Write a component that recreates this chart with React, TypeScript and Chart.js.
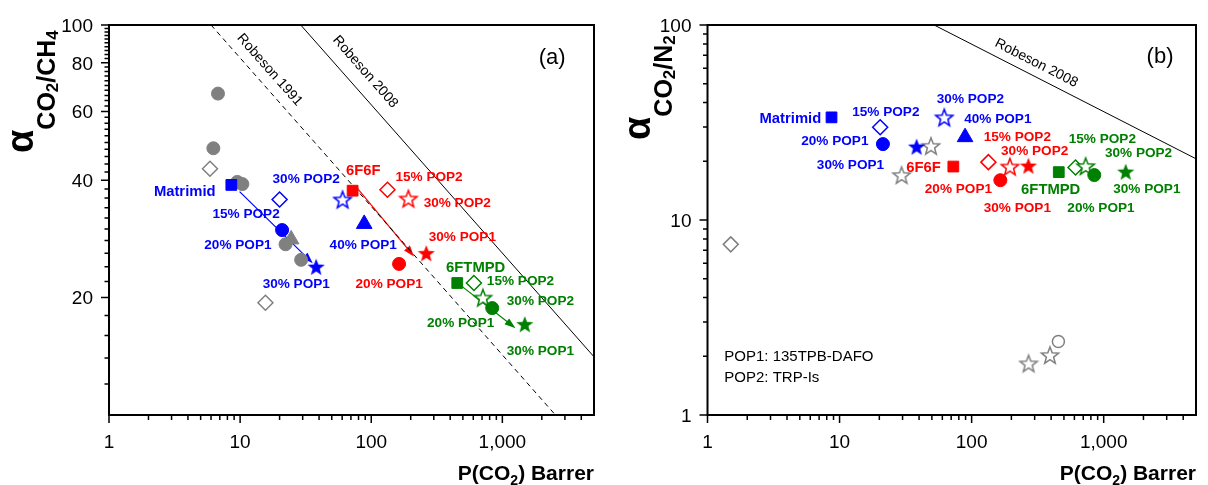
import React, { useEffect, useRef } from 'react';
import { Chart, registerables } from 'chart.js';

Chart.register(...registerables);

const FONT = '"Liberation Sans", Arial, Helvetica, sans-serif';
const BLUE = '#0000ff';
const RED = '#ff0000';
const GREEN = '#008000';
const GRAY = '#808080';

// ---------- shared axis ----------
const X_MAJOR = [1, 10, 100, 1000];
const X_MAJOR_LABELS = ['1', '10', '100', '1,000'];
const X_MAX = 5000;

// ---------- panel (a): CO2/CH4 ----------
const CH4_Y_MAJOR = [20, 40, 60, 80, 100];
const CH4_Y_MAJOR_LABELS = ['20', '40', '60', '80', '100'];

const BLUE_M = ['square', 'diamondOpen', 'circle', 'star', 'starOpen', 'triangle'];
const RED_M = ['square', 'diamondOpen', 'starOpen', 'star', 'circle'];
const GREEN_M = ['square', 'diamondOpen', 'starOpen', 'circle', 'star'];

const CH4_BLUE_P = [8.57, 20.0, 20.9, 38.0, 60.5, 88.4];
const CH4_BLUE_A = [38.9, 35.7, 29.8, 24.0, 35.7, 30.9];
const CH4_RED_P = [72.1, 133, 192, 263, 163];
const CH4_RED_A = [37.6, 37.8, 35.9, 26.0, 24.4];
const CH4_GREEN_P = [453, 607, 711, 837, 1483];
const CH4_GREEN_A = [21.8, 21.8, 20.0, 18.8, 17.1];
const CH4_GRAY_P = [24.5, 6.78, 6.25, 9.52, 10.4, 22.2, 29.2, 5.89, 15.6];
const CH4_GRAY_A = [28.2, 66.7, 48.3, 39.6, 39.1, 27.4, 25.0, 42.8, 19.4];
const CH4_GRAY_M = ['triangle', 'circle', 'circle', 'circle', 'circle', 'circle', 'circle', 'diamondOpen', 'diamondOpen'];

const CH4_R1991_P = [6.0, 2540];
const CH4_R1991_A = [100, 10];
const CH4_R2008_P = [29, 5000];
const CH4_R2008_A = [100, 14.1];

const CH4_BLUE_TXT = ['Matrimid', '30% POP2', '15% POP2', '20% POP1', '30% POP1', '40% POP1'];
const CH4_BLUE_TXT_P = [3.78, 31.9, 11.1, 9.62, 26.8, 86.9];
const CH4_BLUE_TXT_A = [37.4, 40.3, 32.7, 27.3, 21.6, 27.2];
const CH4_RED_TXT = ['6F6F', '15% POP2', '30% POP2', '30% POP1', '20% POP1'];
const CH4_RED_TXT_P = [86.9, 276, 453, 495, 137];
const CH4_RED_TXT_A = [42.3, 40.8, 34.9, 28.5, 21.7];
const CH4_GREEN_TXT = ['6FTMPD', '15% POP2', '30% POP2', '20% POP1', '30% POP1'];
const CH4_GREEN_TXT_P = [626, 1375, 1952, 481, 1952];
const CH4_GREEN_TXT_A = [23.9, 22.0, 19.6, 17.2, 14.6];

// arrows: start/end in data units (blue, red, green)
const CH4_ARROW_FROM_P = [9.91, 76.5, 481];
const CH4_ARROW_FROM_A = [37.4, 38.5, 21.5];
const CH4_ARROW_TO_P = [35.8, 212, 1260];
const CH4_ARROW_TO_A = [24.5, 25.5, 16.7];

// ---------- panel (b): CO2/N2 ----------
const N2_Y_MAJOR = [1, 10, 100];
const N2_Y_MAJOR_LABELS = ['1', '10', '100'];

const N2_BLUE_P = [8.69, 20.3, 21.3, 38.3, 62.1, 89.2];
const N2_BLUE_A = [33.6, 29.9, 24.5, 23.8, 33.6, 26.6];
const N2_RED_P = [72.7, 134, 195, 269, 165];
const N2_RED_A = [18.8, 19.8, 18.8, 19.0, 16.0];
const N2_GREEN_P = [457, 612, 730, 849, 1469];
const N2_GREEN_A = [17.6, 18.6, 18.9, 17.0, 17.7];
const N2_GRAY_P = [1.5, 29.5, 49.2, 270, 392, 454];
const N2_GRAY_A = [7.5, 17.0, 24.0, 1.84, 2.03, 2.38];
const N2_GRAY_M = ['diamondOpen', 'starOpen', 'starOpen', 'starOpen', 'starOpen', 'circleOpen'];

const N2_R2008_P = [52, 5000];
const N2_R2008_A = [100, 20.6];

const N2_BLUE_TXT = ['Matrimid', '15% POP2', '20% POP1', '30% POP1', '30% POP2', '40% POP1'];
const N2_BLUE_TXT_P = [4.24, 22.4, 9.21, 12.1, 97.9, 158];
const N2_BLUE_TXT_A = [33.0, 35.9, 25.4, 19.1, 41.7, 33.0];
const N2_RED_TXT = ['6F6F', '15% POP2', '30% POP2', '20% POP1', '30% POP1'];
const N2_RED_TXT_P = [43.3, 222, 300, 79.4, 222];
const N2_RED_TXT_A = [18.6, 26.7, 22.4, 14.3, 11.5];
const N2_GREEN_TXT = ['6FTMPD', '15% POP2', '30% POP2', '30% POP1', '20% POP1'];
const N2_GREEN_TXT_P = [397, 977, 1836, 2123, 954];
const N2_GREEN_TXT_A = [14.3, 26.0, 22.1, 14.3, 11.5];

const NOTE_LINES = ['POP1: 135TPB-DAFO', 'POP2: TRP-Is'];
const NOTE_P = [1.34, 1.34];
const NOTE_A = [1.99, 1.55];

// ---------- helpers ----------
const starCache: Record<string, HTMLCanvasElement> = {};
function starCanvas(color: string, filled: boolean) {
  const key = color + (filled ? 'f' : 'o');
  if (starCache[key]) return starCache[key];
  const R = 9;
  const size = 2 * R + 4;
  const cv = document.createElement('canvas');
  cv.width = size;
  cv.height = size;
  const g = cv.getContext('2d')!;
  const cx = size / 2;
  const cy = size / 2 + 0.9;
  const r = R * 0.42;
  g.beginPath();
  for (let i = 0; i < 10; i++) {
    const ang = -Math.PI / 2 + (i * Math.PI) / 5;
    const rad = i % 2 === 0 ? R : r;
    const x = cx + rad * Math.cos(ang);
    const y = cy + rad * Math.sin(ang);
    if (i === 0) g.moveTo(x, y);
    else g.lineTo(x, y);
  }
  g.closePath();
  if (filled) {
    g.fillStyle = color;
    g.fill();
  } else {
    g.fillStyle = '#fff';
    g.fill();
    g.lineWidth = 1.5;
    g.strokeStyle = color;
    g.stroke();
  }
  starCache[key] = cv;
  return cv;
}

function markerOpts(m: string, color: string) {
  switch (m) {
    case 'square':
      return { style: 'rect' as any, radius: 7.6, bg: color, bw: 1 };
    case 'circle':
      return { style: 'circle' as any, radius: 6.5, bg: color, bw: 1 };
    case 'circleOpen':
      return { style: 'circle' as any, radius: 6, bg: '#fff', bw: 1.5 };
    case 'diamondOpen':
      return { style: 'rectRot' as any, radius: 7.5, bg: '#fff', bw: 1.5 };
    case 'triangle':
      return { style: 'triangle' as any, radius: 9, bg: color, bw: 1 };
    case 'star':
      return { style: starCanvas(color, true) as any, radius: 9, bg: color, bw: 0 };
    default:
      return { style: starCanvas(color, false) as any, radius: 9, bg: '#fff', bw: 0 };
  }
}

function scatterSet(P: number[], A: number[], M: string[], color: string) {
  const opts = M.map((m) => markerOpts(m, color));
  const get = (c: any) => opts[c.dataIndex] || opts[0];
  return {
    data: P.map((p, i) => ({ x: p, y: A[i] })),
    showLine: false,
    pointStyle: (c: any) => get(c).style,
    pointRadius: (c: any) => get(c).radius,
    pointHoverRadius: (c: any) => get(c).radius,
    pointBackgroundColor: (c: any) => get(c).bg,
    pointBorderColor: color,
    pointBorderWidth: (c: any) => get(c).bw,
  };
}

function lineSet(P: number[], A: number[], dashed: boolean) {
  return {
    data: P.map((p, i) => ({ x: p, y: A[i] })),
    showLine: true,
    borderColor: '#000',
    borderWidth: 1,
    borderDash: dashed ? [5, 4] : [],
    pointRadius: 0,
    fill: false,
  };
}

type Part = { t: string; font: string; dy: number };
function drawRich(ctx: CanvasRenderingContext2D, parts: Part[], x0: number, y0: number, rotate: boolean, alignRight: boolean) {
  ctx.save();
  ctx.translate(x0, y0);
  if (rotate) ctx.rotate(-Math.PI / 2);
  ctx.textAlign = 'left';
  ctx.textBaseline = 'alphabetic';
  const widths = parts.map((p) => {
    ctx.font = p.font;
    return ctx.measureText(p.t).width;
  });
  const total = widths.reduce((a, b) => a + b, 0);
  let u = alignRight ? -total : 0;
  parts.forEach((p, i) => {
    ctx.font = p.font;
    ctx.fillText(p.t, u, p.dy);
    u += widths[i];
  });
  ctx.restore();
}

type TextGroup = { txt: string[]; P: number[]; A: number[]; color: string };
type Spec = {
  canvasW: number;
  plotLeft: number;
  plotRight: number;
  yMin: number;
  yMax: number;
  yMajor: number[];
  yMajorLabels: string[];
  yMinor: number[];
  yTitle: Part[];
  yTitleX: number;
  yTitleY: number;
  datasets: any[];
  texts: TextGroup[];
  arrows: { fromP: number[]; fromA: number[]; toP: number[]; toA: number[]; colors: string[] };
  robeson: { text: string; P: number; A: number; lineP: number[]; lineA: number[] }[];
  letter: string;
  letterP: number;
  letterA: number;
  note?: { lines: string[]; P: number[]; A: number[] };
};

function xMinorTicks() {
  const out: number[] = [];
  for (const d of X_MAJOR) for (let k = 2; k <= 9; k++) if (k * d < X_MAX) out.push(k * d);
  return out;
}

function buildConfig(spec: Spec): any {
  const overlay = {
    id: 'overlay',
    beforeDatasetsDraw(chart: any) {
      const { ctx, scales } = chart;
      const px = (v: number) => scales.x.getPixelForValue(v);
      const py = (v: number) => scales.y.getPixelForValue(v);
      const a = spec.arrows;
      ctx.save();
      for (let i = 0; i < a.fromP.length; i++) {
        const x0 = px(a.fromP[i]);
        const y0 = py(a.fromA[i]);
        const x1 = px(a.toP[i]);
        const y1 = py(a.toA[i]);
        const ang = Math.atan2(y1 - y0, x1 - x0);
        const L = 11;
        const W = 3.8;
        ctx.strokeStyle = a.colors[i];
        ctx.fillStyle = a.colors[i];
        ctx.lineWidth = 1.2;
        ctx.beginPath();
        ctx.moveTo(x0, y0);
        ctx.lineTo(x1 - L * 0.8 * Math.cos(ang), y1 - L * 0.8 * Math.sin(ang));
        ctx.stroke();
        ctx.beginPath();
        ctx.moveTo(x1, y1);
        ctx.lineTo(x1 - L * Math.cos(ang) + W * Math.sin(ang), y1 - L * Math.sin(ang) - W * Math.cos(ang));
        ctx.lineTo(x1 - L * Math.cos(ang) - W * Math.sin(ang), y1 - L * Math.sin(ang) + W * Math.cos(ang));
        ctx.closePath();
        ctx.fill();
      }
      ctx.restore();
    },
    afterDatasetsDraw(chart: any) {
      const { ctx, chartArea: ca, scales } = chart;
      const px = (v: number) => scales.x.getPixelForValue(v);
      const py = (v: number) => scales.y.getPixelForValue(v);
      ctx.save();

      // annotation labels
      ctx.textAlign = 'center';
      ctx.textBaseline = 'middle';
      for (const g of spec.texts) {
        ctx.fillStyle = g.color;
        g.txt.forEach((t, i) => {
          ctx.font = t.includes('%') ? `bold 13.6px ${FONT}` : `bold 14.8px ${FONT}`;
          ctx.fillText(t, px(g.P[i]), py(g.A[i]));
        });
      }

      // Robeson labels
      ctx.fillStyle = '#000';
      ctx.font = `14px ${FONT}`;
      for (const r of spec.robeson) {
        const ang = Math.atan2(py(r.lineA[1]) - py(r.lineA[0]), px(r.lineP[1]) - px(r.lineP[0]));
        ctx.save();
        ctx.translate(px(r.P), py(r.A));
        ctx.rotate(ang);
        ctx.fillText(r.text, 0, 0);
        ctx.restore();
      }

      // panel letter
      ctx.font = `22px ${FONT}`;
      ctx.fillText(spec.letter, px(spec.letterP), py(spec.letterA));

      // note
      if (spec.note) {
        ctx.textAlign = 'left';
        ctx.font = `15px ${FONT}`;
        spec.note.lines.forEach((t, i) => ctx.fillText(t, px(spec.note!.P[i]), py(spec.note!.A[i])));
      }

      // frame
      ctx.strokeStyle = '#000';
      ctx.lineWidth = 2;
      ctx.strokeRect(ca.left, ca.top, ca.right - ca.left, ca.bottom - ca.top);

      // ticks
      ctx.lineWidth = 1.5;
      ctx.beginPath();
      for (const v of X_MAJOR) {
        const x = px(v);
        ctx.moveTo(x, ca.bottom);
        ctx.lineTo(x, ca.bottom + 8);
      }
      for (const v of xMinorTicks()) {
        const x = px(v);
        ctx.moveTo(x, ca.bottom);
        ctx.lineTo(x, ca.bottom + 5);
      }
      for (const v of spec.yMajor) {
        const y = py(v);
        ctx.moveTo(ca.left, y);
        ctx.lineTo(ca.left - 8, y);
      }
      for (const v of spec.yMinor) {
        const y = py(v);
        ctx.moveTo(ca.left, y);
        ctx.lineTo(ca.left - 4.5, y);
      }
      ctx.stroke();

      // tick labels
      ctx.fillStyle = '#000';
      ctx.font = `19px ${FONT}`;
      ctx.textBaseline = 'alphabetic';
      ctx.textAlign = 'center';
      X_MAJOR.forEach((v, i) => ctx.fillText(X_MAJOR_LABELS[i], px(v), ca.bottom + 33));
      ctx.textAlign = 'right';
      spec.yMajor.forEach((v, i) => ctx.fillText(spec.yMajorLabels[i], ca.left - 16, py(v) + 6.8));

      // axis titles
      drawRich(
        ctx,
        [
          { t: 'P(CO', font: `bold 21px ${FONT}`, dy: 0 },
          { t: '2', font: `bold 14px ${FONT}`, dy: 5 },
          { t: ') Barrer', font: `bold 21px ${FONT}`, dy: 0 },
        ],
        ca.right,
        480,
        false,
        true
      );
      drawRich(ctx, spec.yTitle, spec.yTitleX, spec.yTitleY, true, false);

      ctx.restore();
    },
  };

  return {
    type: 'scatter',
    data: { datasets: spec.datasets },
    options: {
      animation: false,
      responsive: false,
      maintainAspectRatio: false,
      events: [],
      layout: { padding: { left: 0, top: 25, right: spec.canvasW - spec.plotRight, bottom: 0 } },
      plugins: { legend: { display: false }, tooltip: { enabled: false } },
      scales: {
        x: {
          type: 'logarithmic',
          min: 1,
          max: X_MAX,
          grid: { display: false, drawTicks: false },
          border: { display: false },
          ticks: { display: false },
          afterFit: (s: any) => {
            s.height = 70;
          },
        },
        y: {
          type: 'logarithmic',
          min: spec.yMin,
          max: spec.yMax,
          grid: { display: false, drawTicks: false },
          border: { display: false },
          ticks: { display: false },
          afterFit: (s: any) => {
            s.width = spec.plotLeft;
          },
        },
      },
    },
    plugins: [overlay],
  };
}

function specA(): Spec {
  const yMinor: number[] = [];
  for (let v = 12; v < 100; v += 2) if (v % 20 !== 0) yMinor.push(v);
  return {
    canvasW: 604,
    plotLeft: 109,
    plotRight: 596,
    yMin: 10,
    yMax: 100,
    yMajor: CH4_Y_MAJOR,
    yMajorLabels: CH4_Y_MAJOR_LABELS,
    yMinor,
    yTitle: [
      { t: 'α', font: `bold 38px ${FONT}`, dy: 0 },
      { t: 'CO', font: `bold 25px ${FONT}`, dy: 22 },
      { t: '2', font: `bold 17px ${FONT}`, dy: 25 },
      { t: '/CH', font: `bold 25px ${FONT}`, dy: 22 },
      { t: '4', font: `bold 17px ${FONT}`, dy: 25 },
    ],
    yTitleX: 33,
    yTitleY: 153,
    datasets: [
      scatterSet(CH4_BLUE_P, CH4_BLUE_A, BLUE_M, BLUE),
      scatterSet(CH4_RED_P, CH4_RED_A, RED_M, RED),
      scatterSet(CH4_GREEN_P, CH4_GREEN_A, GREEN_M, GREEN),
      scatterSet(CH4_GRAY_P, CH4_GRAY_A, CH4_GRAY_M, GRAY),
      lineSet(CH4_R1991_P, CH4_R1991_A, true),
      lineSet(CH4_R2008_P, CH4_R2008_A, false),
    ],
    texts: [
      { txt: CH4_BLUE_TXT, P: CH4_BLUE_TXT_P, A: CH4_BLUE_TXT_A, color: BLUE },
      { txt: CH4_RED_TXT, P: CH4_RED_TXT_P, A: CH4_RED_TXT_A, color: RED },
      { txt: CH4_GREEN_TXT, P: CH4_GREEN_TXT_P, A: CH4_GREEN_TXT_A, color: GREEN },
    ],
    arrows: {
      fromP: CH4_ARROW_FROM_P,
      fromA: CH4_ARROW_FROM_A,
      toP: CH4_ARROW_TO_P,
      toA: CH4_ARROW_TO_A,
      colors: [BLUE, RED, GREEN],
    },
    robeson: [
      { text: 'Robeson 1991', P: 16.8, A: 76.7, lineP: CH4_R1991_P, lineA: CH4_R1991_A },
      { text: 'Robeson 2008', P: 90.0, A: 75.8, lineP: CH4_R2008_P, lineA: CH4_R2008_A },
    ],
    letter: '(a)',
    letterP: 2400,
    letterA: 82.5,
  };
}

function specB(): Spec {
  const yMinor: number[] = [];
  for (const d of [1, 10]) for (let k = 2; k <= 9; k++) yMinor.push(k * d);
  return {
    canvasW: 604,
    plotLeft: 103.5,
    plotRight: 592,
    yMin: 1,
    yMax: 100,
    yMajor: N2_Y_MAJOR,
    yMajorLabels: N2_Y_MAJOR_LABELS,
    yMinor,
    yTitle: [
      { t: 'α', font: `bold 38px ${FONT}`, dy: 0 },
      { t: 'CO', font: `bold 25px ${FONT}`, dy: 22 },
      { t: '2', font: `bold 17px ${FONT}`, dy: 25 },
      { t: '/N', font: `bold 25px ${FONT}`, dy: 22 },
      { t: '2', font: `bold 17px ${FONT}`, dy: 25 },
    ],
    yTitleX: 46,
    yTitleY: 140,
    datasets: [
      scatterSet(N2_BLUE_P, N2_BLUE_A, BLUE_M, BLUE),
      scatterSet(N2_RED_P, N2_RED_A, RED_M, RED),
      scatterSet(N2_GREEN_P, N2_GREEN_A, GREEN_M, GREEN),
      scatterSet(N2_GRAY_P, N2_GRAY_A, N2_GRAY_M, GRAY),
      lineSet(N2_R2008_P, N2_R2008_A, false),
    ],
    texts: [
      { txt: N2_BLUE_TXT, P: N2_BLUE_TXT_P, A: N2_BLUE_TXT_A, color: BLUE },
      { txt: N2_RED_TXT, P: N2_RED_TXT_P, A: N2_RED_TXT_A, color: RED },
      { txt: N2_GREEN_TXT, P: N2_GREEN_TXT_P, A: N2_GREEN_TXT_A, color: GREEN },
    ],
    arrows: { fromP: [], fromA: [], toP: [], toA: [], colors: [] },
    robeson: [{ text: 'Robeson 2008', P: 309, A: 63.8, lineP: N2_R2008_P, lineA: N2_R2008_A }],
    letter: '(b)',
    letterP: 2670,
    letterA: 68.5,
    note: { lines: NOTE_LINES, P: NOTE_P, A: NOTE_A },
  };
}

export default function App() {
  const leftRef = useRef<HTMLCanvasElement>(null);
  const rightRef = useRef<HTMLCanvasElement>(null);
  useEffect(() => {
    const c1 = new Chart(leftRef.current as HTMLCanvasElement, buildConfig(specA()));
    const c2 = new Chart(rightRef.current as HTMLCanvasElement, buildConfig(specB()));
    return () => {
      c1.destroy();
      c2.destroy();
    };
  }, []);
  return (
    <div style={{ position: 'absolute', left: 0, top: 0, width: 1208, height: 485, background: '#fff' }}>
      <canvas
        ref={leftRef}
        width={604}
        height={485}
        style={{ position: 'absolute', left: 0, top: 0, width: 604, height: 485 }}
      />
      <canvas
        ref={rightRef}
        width={604}
        height={485}
        style={{ position: 'absolute', left: 604, top: 0, width: 604, height: 485 }}
      />
    </div>
  );
}
